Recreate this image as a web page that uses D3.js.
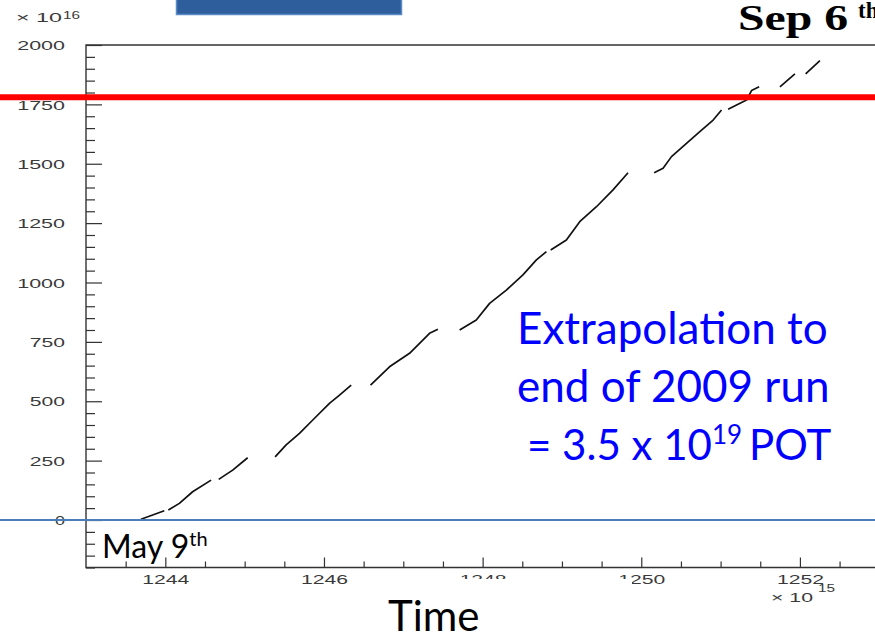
<!DOCTYPE html>
<html>
<head>
<meta charset="utf-8">
<script src="https://cdn.jsdelivr.net/npm/d3@7"></script>
<style>
  html, body { margin: 0; padding: 0; background: #fff; }
  svg { display: block; }
</style>
</head>
<body>
<svg id="chart" width="875" height="636"></svg>
<script>
// Cumulative protons on target (units of 1e16) versus time (units of 1e15 s).
// null entries mark beam-off gaps between running periods.
const timeValues = [
  1243.693, 1243.840, 1243.987, null,
  1244.038, 1244.177, 1244.344, 1244.577, null,
  1244.673, 1244.849, 1245.038, null,
  1245.384, 1245.523, 1245.691, 1245.859, 1246.069, 1246.196, 1246.343, null,
  1246.587, 1246.826, 1247.079, 1247.331, 1247.436, null,
  1247.710, 1247.920, 1248.088, 1248.299, 1248.508, 1248.678, 1248.804, null,
  1248.858, 1249.056, 1249.224, 1249.435, 1249.644, 1249.833, null,
  1250.162, 1250.275, 1250.381, 1250.570, 1250.738, 1250.906, 1251.012, null,
  1251.095, 1251.201, 1251.327, 1251.390, 1251.486, null,
  1251.748, 1251.937, null,
  1252.072, 1252.252
];
const potValues = [
  3, 21, 39, null,
  42, 70, 119, 168, null,
  171, 210, 262, null,
  266, 316, 365, 421, 491, 526, 568, null,
  568, 645, 702, 786, 803, null,
  800, 842, 912, 968, 1032, 1095, 1130, null,
  1137, 1179, 1256, 1319, 1390, 1462, null,
  1462, 1481, 1530, 1586, 1635, 1684, 1726, null,
  1729, 1747, 1768, 1808, 1824, null,
  1824, 1878, null,
  1878, 1934
];

const timeTicks = [1244, 1246, 1248, 1250, 1252];
const potTicks = [0, 250, 500, 750, 1000, 1250, 1500, 1750, 2000];
const timeDomain = [1243, 1253];
const potDomain = [-200, 2000];

const targetPot = 1780;   // goal level (red line)
const startPot = 0;       // start of the run (blue line)

const noteLines = ["Extrapolation to", "end of 2009 run"];
const noteLast = ["= 3.5 x 10", "19", "POT"];
const startLabel = ["May 9", "th"];
const endLabel = ["Sep 6", "th"];
const xTitle = "Time";

const svg = d3.select("#chart");
const W = 875, H = 636;
const plotLeft = 86, plotTop = 45, plotBottom = 567.5, plotRight = 879.25;

const x = d3.scaleLinear().domain(timeDomain).range([plotLeft, plotRight]);
const y = d3.scaleLinear().domain(potDomain).range([plotBottom, plotTop]);

const frameColor = "#333";
const tickFont = "'Liberation Sans', Arial, sans-serif";
const slideFont = "Lato, 'Open Sans', sans-serif";

// header box of the slide
svg.append("rect")
  .attr("x", 176.5).attr("y", -3).attr("width", 225).attr("height", 17.5)
  .attr("fill", "#2f5e9c").attr("stroke", "#5a8ac8").attr("stroke-width", 1.5);

// "Sep 6th" header text
const sep = svg.append("text")
  .attr("x", 738).attr("y", 29.5)
  .attr("font-family", "'Liberation Serif', 'Times New Roman', serif")
  .attr("font-weight", "bold").attr("font-size", 36).attr("fill", "#000");
sep.append("tspan").text(endLabel[0]).attr("textLength", 110).attr("lengthAdjust", "spacingAndGlyphs");
sep.append("tspan").text(endLabel[1]).attr("x", 858).attr("y", 18).attr("font-size", 23);

// ---- axes ----
const yMinor = d3.range(-200, 2001, 50).filter(v => v % 250 !== 0);
const xMinor = d3.range(1243.5, 1253, 0.5).filter(v => !timeTicks.includes(v));

const gy = svg.append("g").attr("transform", `translate(${plotLeft},0)`);
gy.call(d3.axisLeft(y).tickValues(yMinor).tickSize(-9).tickFormat(""));
gy.call(g => g.selectAll(".domain").remove());
const gyMajor = svg.append("g").attr("transform", `translate(${plotLeft},0)`);
gyMajor.call(d3.axisLeft(y).tickValues(potTicks).tickSize(-16).tickPadding(21)
  .tickFormat(d3.format("d")));
gyMajor.select(".domain").remove();
[gy, gyMajor].forEach(g => g.selectAll("line").attr("stroke", frameColor).attr("stroke-width", 1.2));
gyMajor.selectAll("text")
  .attr("font-family", tickFont).attr("font-size", 13).attr("fill", "#3a3a3a")
  .attr("dy", "0.36em")
  .each(function(d) {
    const n = String(d).length;
    d3.select(this).attr("textLength", 12.6 * n - 2.6).attr("lengthAdjust", "spacingAndGlyphs");
  });

const gx = svg.append("g").attr("transform", `translate(0,${plotBottom})`);
gx.call(d3.axisBottom(x).tickValues(xMinor).tickSize(-6).tickFormat(""));
gx.select(".domain").remove();
const gxMajor = svg.append("g").attr("transform", `translate(0,${plotBottom})`);
gxMajor.call(d3.axisBottom(x).tickValues(timeTicks).tickSize(-10).tickPadding(8)
  .tickFormat(d3.format("d")));
gxMajor.select(".domain").remove();
[gx, gxMajor].forEach(g => g.selectAll("line").attr("stroke", frameColor).attr("stroke-width", 1.2));
gxMajor.selectAll("text")
  .attr("font-family", tickFont).attr("font-size", 12).attr("fill", "#3a3a3a")
  .attr("dy", "0.71em")
  .attr("textLength", 47).attr("lengthAdjust", "spacingAndGlyphs");

// frame
svg.append("path")
  .attr("d", `M${plotRight},${plotTop}H${plotLeft}V${plotBottom}H${plotRight}`)
  .attr("fill", "none").attr("stroke", frameColor).attr("stroke-width", 1.4);

// exponent labels
function expLabel(xb, yb, len, sx, sy, exp) {
  svg.append("text").attr("x", xb).attr("y", yb)
    .attr("font-family", tickFont).attr("font-size", 12).attr("fill", "#3a3a3a")
    .attr("textLength", len).attr("lengthAdjust", "spacingAndGlyphs").text("\u00d7 10");
  svg.append("text").attr("x", sx).attr("y", sy)
    .attr("font-family", tickFont).attr("font-size", 10).attr("fill", "#3a3a3a")
    .attr("textLength", 17).attr("lengthAdjust", "spacingAndGlyphs").text(exp);
}
expLabel(16, 21.5, 46, 63, 18.5, "16");
expLabel(771, 602, 42, 818, 592, "15");

// ---- data line ----
const pts = timeValues.map((t, i) => ({ t, v: potValues[i] }));
const line = d3.line()
  .defined(d => d.t != null && d.v != null)
  .x(d => x(d.t)).y(d => y(d.v));
svg.append("path")
  .datum(pts)
  .attr("d", line)
  .attr("fill", "none").attr("stroke", "#111").attr("stroke-width", 1.7)
  .attr("stroke-linejoin", "round");

// ---- reference lines ----
svg.append("line")
  .attr("x1", 0).attr("x2", W).attr("y1", y(startPot)).attr("y2", y(startPot))
  .attr("stroke", "#4a7ebb").attr("stroke-width", 2);
svg.append("line")
  .attr("x1", 0).attr("x2", W).attr("y1", y(targetPot)).attr("y2", y(targetPot))
  .attr("stroke", "#ff0000").attr("stroke-width", 6);

// ---- slide annotations ----
const may = svg.append("text").attr("x", 102).attr("y", 558)
  .attr("font-family", slideFont).attr("font-size", 32).attr("fill", "#000");
may.append("tspan").text(startLabel[0]);
may.append("tspan").text(startLabel[1]).attr("font-size", 20).attr("dy", -12);

// title box of the x axis (white background)
svg.append("rect").attr("x", 372).attr("y", 579).attr("width", 260).attr("height", 60)
  .attr("fill", "#fff");
svg.append("text").attr("x", 388).attr("y", 631)
  .attr("font-family", slideFont).attr("font-size", 42).attr("fill", "#000").text(xTitle);

const note = svg.append("g")
  .attr("font-family", slideFont).attr("font-size", 44).attr("fill", "#0000ff");
note.append("text").attr("x", 517).attr("y", 344).text(noteLines[0]);
note.append("text").attr("x", 517).attr("y", 402).text(noteLines[1]);
const last = note.append("text").attr("x", 527).attr("y", 460).attr("font-size", 42);
last.append("tspan").text(noteLast[0]);
last.append("tspan").text(noteLast[1]).attr("font-size", 26).attr("dy", -16);
last.append("tspan").text(noteLast[2]).attr("dy", 16).attr("dx", 7);
</script>
</body>
</html>
